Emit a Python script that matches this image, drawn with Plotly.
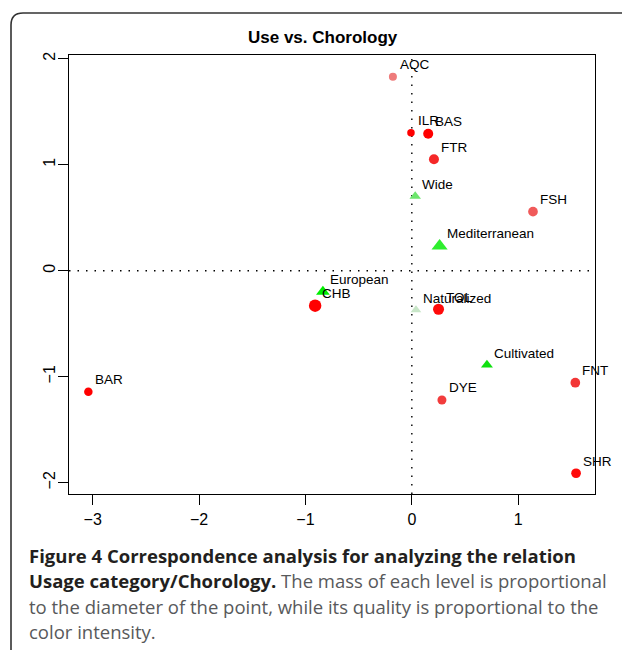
import plotly.graph_objects as go

# ---------------- data ----------------
use_labels = ["AQC", "ILR", "BAS", "FTR", "FSH", "CHB", "TOL", "DYE", "BAR", "FNT", "SHR"]
use_x = [-0.178, -0.008, 0.154, 0.208, 1.139, -0.909, 0.251, 0.283, -3.041, 1.537, 1.544]
use_y = [1.830, 1.302, 1.292, 1.051, 0.557, -0.330, -0.364, -1.220, -1.142, -1.057, -1.911]
use_size = [8, 7.5, 10, 10, 9.7, 12.5, 11, 9, 8.5, 9.7, 9.7]
use_color = ["#EE7B7B", "#FF0000", "#FF0000", "#F52828", "#F05A5A", "#FF0000",
             "#FF0A0A", "#F23C3C", "#FF0000", "#F23636", "#FF0A0A"]

chor_labels = ["Wide", "Mediterranean", "European", "Naturalized", "Cultivated"]
chor_x = [0.032, 0.261, -0.836, 0.039, 0.706]
chor_y = [0.702, 0.233, -0.198, -0.371, -0.890]
chor_size = [10, 14, 12, 9.3, 10.4]
chor_color = ["#6EE66E", "#2EEE2E", "#00EE00", "#C8E6C8", "#10E010"]

x_ticks = [-3, -2, -1, 0, 1]
y_ticks = [-2, -1, 0, 1, 2]

title_text = "Use vs. Chorology"
caption_lines = [
    "<b>Figure 4 Correspondence analysis for analyzing the relation</b>",
    "<b>Usage category/Chorology.</b> <span style='color:#58595B'>The mass of each level is proportional</span>",
    "<span style='color:#58595B'>to the diameter of the point, while its quality is proportional to the</span>",
    "<span style='color:#58595B'>color intensity.</span>",
]

# ---------------- layout geometry ----------------
W, H = 622, 650
L, R, T, B = 69, 27, 55, 156
PW, PH = W - L - R, H - T - B


def pxx(xp):
    return (xp - L) / PW


def pxy(yp):
    return (H - B - yp) / PH


fig = go.Figure()

fig.add_trace(go.Scatter(
    x=use_x, y=use_y, mode="markers",
    marker=dict(symbol="circle", size=use_size, color=use_color, opacity=1, line=dict(width=0)),
    hoverinfo="text", hovertext=use_labels, showlegend=False))

fig.add_trace(go.Scatter(
    x=chor_x, y=chor_y, mode="markers",
    marker=dict(symbol="triangle-up", size=chor_size, color=chor_color, opacity=1, line=dict(width=0)),
    hoverinfo="text", hovertext=chor_labels, showlegend=False))

lab_font = dict(family="Liberation Sans, Arial, sans-serif", size=13.5, color="black")
for lx, ly, lt in list(zip(use_x, use_y, use_labels)) + list(zip(chor_x, chor_y, chor_labels)):
    fig.add_annotation(x=lx, y=ly, text=lt, showarrow=False, xanchor="left", yanchor="middle",
                       xshift=5, yshift=12, font=lab_font)

# dotted reference lines
dot = dict(color="black", width=1.4, dash="1.5px,7px")
fig.add_shape(type="line", xref="x", yref="paper", x0=0, x1=0, y0=0, y1=1, line=dot, layer="below")
fig.add_shape(type="line", xref="paper", yref="y", x0=0, x1=1, y0=0, y1=0, line=dot, layer="below")

# rounded frame of the figure panel
r = 12
left, top = 11, 13
path = (f"M {pxx(left)},{pxy(660)} L {pxx(left)},{pxy(top + r)} "
        f"Q {pxx(left)},{pxy(top)} {pxx(left + r)},{pxy(top)} L {pxx(640)},{pxy(top)}")
fig.add_shape(type="path", xref="paper", yref="paper", path=path,
              line=dict(color="#333333", width=1.6))

# title
fig.add_annotation(x=pxx(323), y=pxy(37.5), xref="paper", yref="paper", text="<b>" + title_text + "</b>",
                   showarrow=False, xanchor="center", yanchor="middle",
                   font=dict(family="Liberation Sans, Arial, sans-serif", size=17, color="black"))

# caption
cap_y = [555, 580.5, 606, 631.5]
for yy, line in zip(cap_y, caption_lines):
    fig.add_annotation(x=pxx(27), y=pxy(yy), xref="paper", yref="paper", text=line,
                       showarrow=False, xanchor="left", yanchor="middle", align="left",
                       font=dict(family="Open Sans, Noto Sans, sans-serif", size=18.5, color="#231F20"))

axis_common = dict(showgrid=False, zeroline=False, showline=True, mirror=True,
                   linecolor="black", linewidth=1.2, ticks="outside", ticklen=10,
                   tickwidth=1.2, tickcolor="black",
                   tickfont=dict(family="Liberation Sans, Arial, sans-serif", size=16, color="black"))

fig.update_layout(
    width=W, height=H,
    margin=dict(l=L, r=R, t=T, b=B),
    paper_bgcolor="white", plot_bgcolor="white",
    xaxis=dict(range=[-3.223, 1.722], tickvals=x_ticks, ticklabelstandoff=1, **axis_common),
    yaxis=dict(range=[-2.107, 2.035], tickvals=y_ticks, tickangle=-90, ticklabelstandoff=-3, **axis_common),
)

fig.write_html("out.html", config={"displayModeBar": False},
               post_script="document.body.style.margin='0';document.body.style.overflow='hidden';")
